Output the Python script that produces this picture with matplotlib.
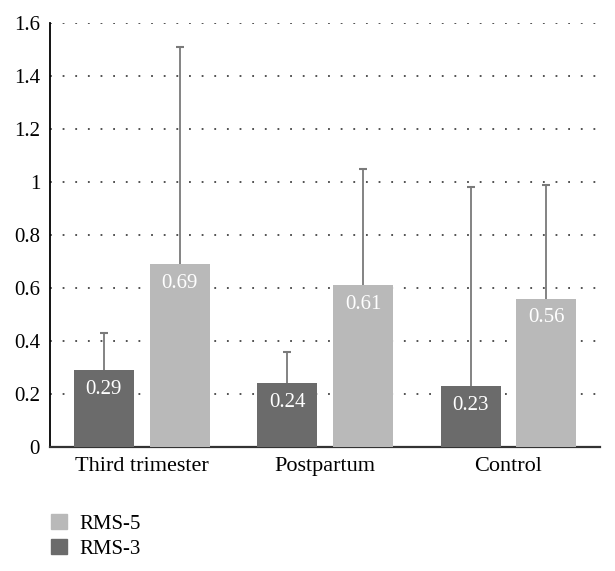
import numpy as np
import matplotlib.pyplot as plt
from matplotlib.patches import Patch

groups = ["Third trimester", "Postpartum", "Control"]
rms3 = [0.29, 0.24, 0.23]
rms5 = [0.69, 0.61, 0.56]
rms3_err = [0.14, 0.12, 0.75]   # upper error only
rms5_err = [0.82, 0.44, 0.43]
yticks = [0, 0.2, 0.4, 0.6, 0.8, 1, 1.2, 1.4, 1.6]
ytick_labels = ["0", "0.2", "0.4", "0.6", "0.8", "1", "1.2", "1.4", "1.6"]

plt.rcParams['font.family'] = 'serif'
plt.rcParams['font.serif'] = ['Liberation Serif', 'DejaVu Serif']

dark = "#6b6b6b"
light = "#b9b9b9"
errc = "#7a7a7a"

fig = plt.figure(figsize=(6.15, 5.71), dpi=100)
ax = fig.add_axes([0.081, 0.217, 0.895, 0.743])

x = np.arange(len(groups))
w = 0.327
off = 0.207

ax.bar(x - off, rms3, w, color=dark, zorder=3)
ax.bar(x + off, rms5, w, color=light, zorder=3)
for pos, vals, errs in [(x - off, rms3, rms3_err), (x + off, rms5, rms5_err)]:
    eb = ax.errorbar(pos, vals, yerr=[np.zeros(3), errs], fmt='none',
                     ecolor=errc, elinewidth=1.3, capsize=3, capthick=1.5, zorder=2)
    eb[1][0].set_visible(False)  # hide lower cap

for i in range(len(groups)):
    ax.text(x[i] - off, rms3[i] - 0.072, "%.2f" % rms3[i], color="white",
            ha="center", va="center", fontsize=15, zorder=4)
    ax.text(x[i] + off, rms5[i] - 0.072, "%.2f" % rms5[i], color="white",
            ha="center", va="center", fontsize=15, zorder=4)

ax.set_xlim(-0.5, 2.5)
ax.set_ylim(0, 1.6)
ax.set_yticks(yticks)
ax.set_yticklabels(ytick_labels, fontsize=15)
ax.set_xticks(x)
ax.set_xticklabels(groups, fontsize=16)
ax.tick_params(length=0, pad=7)
ax.yaxis.grid(True, linestyle=(0, (1, 6)), color="#444444", linewidth=1.3, zorder=0)
ax.set_axisbelow(True)
for s in ["top", "right"]:
    ax.spines[s].set_visible(False)
ax.spines["left"].set_color("black")
ax.spines["left"].set_linewidth(1.3)
ax.spines["bottom"].set_color("#333333")
ax.spines["bottom"].set_linewidth(1.6)

handles = [Patch(color=light, label="RMS-5"), Patch(color=dark, label="RMS-3")]
fig.legend(handles=handles, loc="upper left", bbox_to_anchor=(0.07, 0.115),
           frameon=False, fontsize=15, handlelength=0.75, handleheight=0.75,
           labelspacing=0.25, handletextpad=0.6, borderaxespad=0)

fig.savefig("out.png", dpi=100)
